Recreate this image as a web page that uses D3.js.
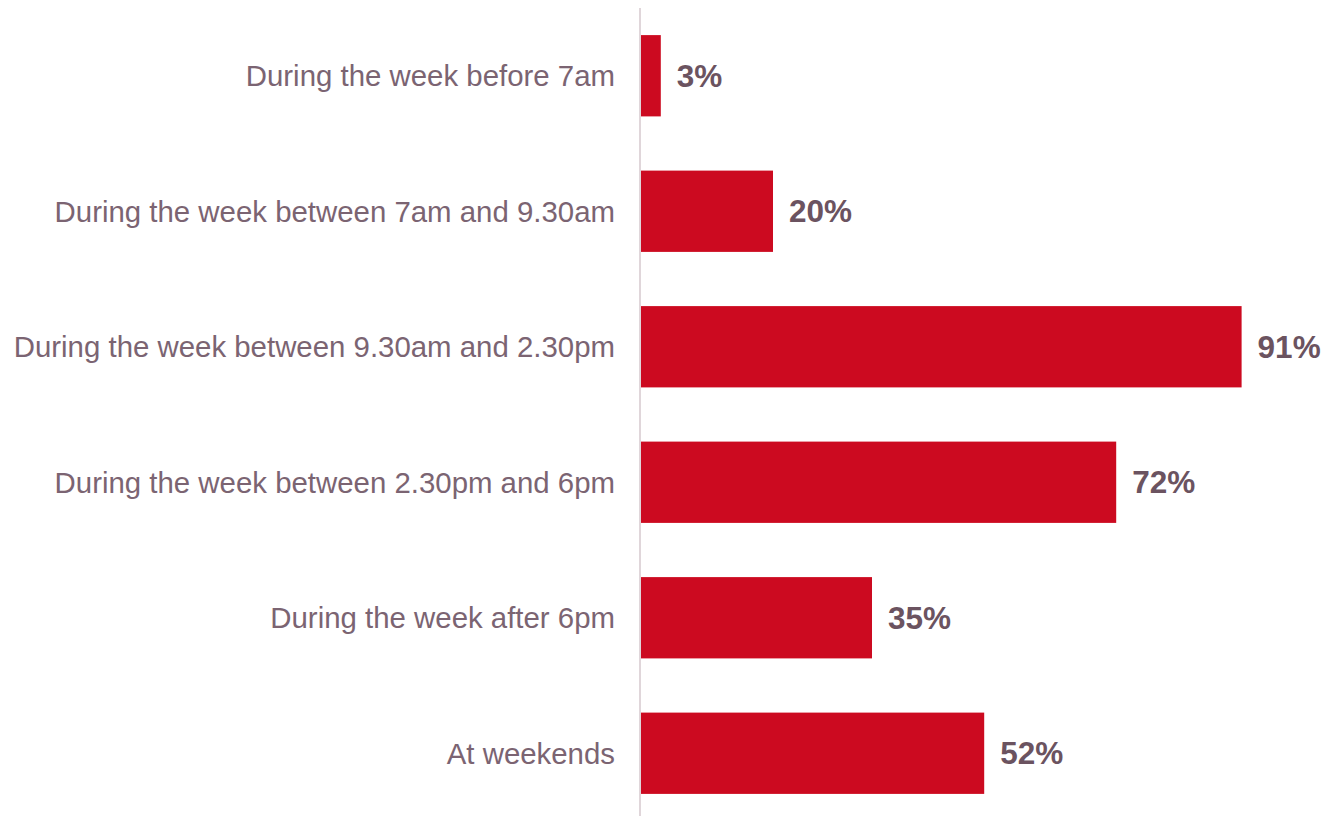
<!DOCTYPE html>
<meta charset="utf-8">
<style>
  body { margin: 0; background: #fff; }
  text { font-family: Arial, "Liberation Sans", sans-serif; }
</style>
<body>
<script src="https://d3js.org/d3.v7.min.js"></script>
<script>

var categories = [
  "During the week before 7am",
  "During the week between 7am and 9.30am",
  "During the week between 9.30am and 2.30pm",
  "During the week between 2.30pm and 6pm",
  "During the week after 6pm",
  "At weekends"
];
var values = [3, 20, 91, 72, 35, 52];

var width = 1332, height = 816;
var x0 = 641;

var svg = d3.select("body").append("svg")
    .attr("width", width)
    .attr("height", height);

var x = d3.scaleLinear()
    .domain([0, 100])
    .range([x0, x0 + 660]);

var y = d3.scaleBand()
    .domain(categories)
    .range([8, 8 + 135.5 * 6])
    .paddingInner(0.4)
    .paddingOuter(0.2);

// bars
svg.selectAll("rect.bar")
    .data(values)
    .enter().append("rect")
    .attr("class", "bar")
    .attr("x", x(0))
    .attr("y", function(d, i) { return y(categories[i]); })
    .attr("width", function(d) { return x(d) - x(0); })
    .attr("height", y.bandwidth())
    .style("fill", "#cc0a20");

// vertical axis line
svg.append("line")
    .attr("x1", x0 - 1).attr("x2", x0 - 1)
    .attr("y1", 8).attr("y2", height)
    .style("stroke", "#e0d6da")
    .style("stroke-width", 2);

// category labels
svg.selectAll("text.cat")
    .data(categories)
    .enter().append("text")
    .attr("class", "cat")
    .attr("x", x0 - 26)
    .attr("y", function(d) { return y(d) + y.bandwidth() / 2; })
    .attr("dy", "0.35em")
    .attr("text-anchor", "end")
    .style("font-size", "29.4px")
    .style("fill", "#7b6472")
    .text(function(d) { return d; });

// value labels
svg.selectAll("text.val")
    .data(values)
    .enter().append("text")
    .attr("class", "val")
    .attr("x", function(d) { return x(d) + 16; })
    .attr("y", function(d, i) { return y(categories[i]) + y.bandwidth() / 2; })
    .attr("dy", "0.35em")
    .style("font-size", "31.5px")
    .style("font-weight", "bold")
    .style("fill", "#6b5360")
    .text(function(d) { return d + "%"; });

</script>
</body>
